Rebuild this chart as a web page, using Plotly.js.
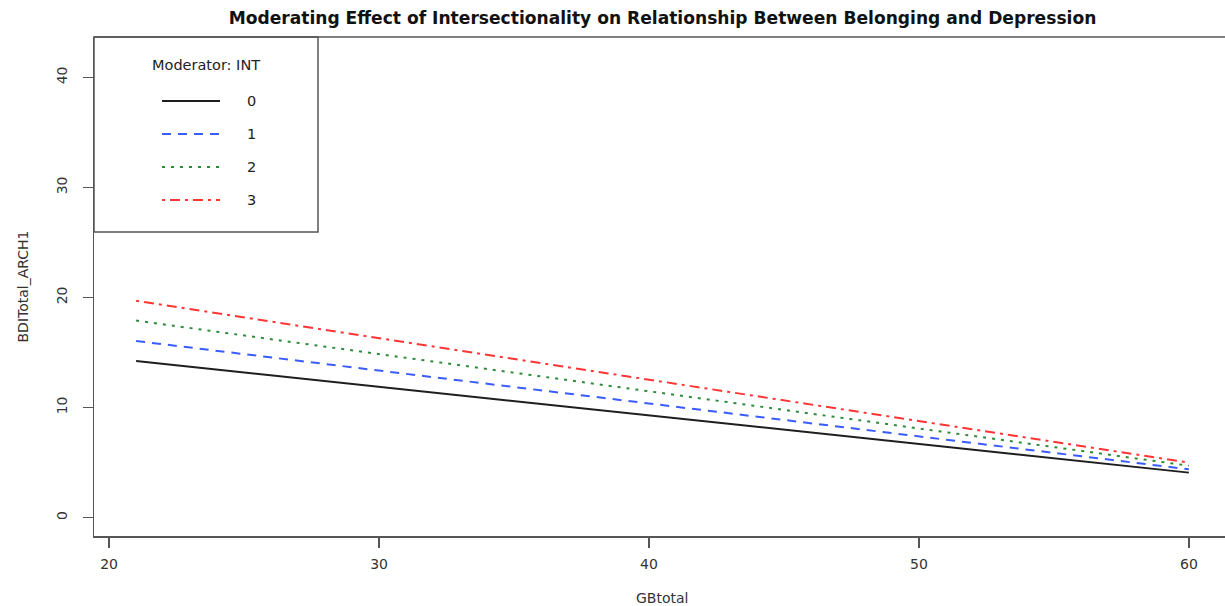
<!DOCTYPE html>
<html><head><meta charset="utf-8">
<script src="https://cdn.plot.ly/plotly-3.0.1.min.js"></script>
<style>html,body{margin:0;padding:0;overflow:hidden;background:#fff}</style>
</head><body><div id="chart"></div>
<script>
const gbTotal = [21, 60];
const int0 = [14.23, 4.08];
const int1 = [16.05, 4.38];
const int2 = [17.90, 4.71];
const int3 = [19.70, 4.99];
const seriesNames = ['0', '1', '2', '3'];
const xTicks = [20, 30, 40, 50, 60];
const yTicks = [0, 10, 20, 30, 40];

const FONT = 'DejaVu Sans, Liberation Sans, Arial, sans-serif';
const styles = [
  {color: '#1e1e1e', dash: 'solid'},
  {color: '#3a5cff', dash: '9px,7px'},
  {color: '#2e8b3a', dash: '3px,6px'},
  {color: '#ff3535', dash: '3px,5px,10px,5px'}
];
const ys = [int0, int1, int2, int3];
const traces = ys.map((y, i) => ({
  x: gbTotal, y: y, type: 'scatter', mode: 'lines', name: seriesNames[i],
  line: {color: styles[i].color, dash: styles[i].dash, width: 2},
  showlegend: false, hoverinfo: 'x+y'
}));

const W = 1240, H = 606;
const L = 94, R = 1231, T = 37, B = 536;
const shapes = [];
const annotations = [];
const pxX = x => (x - L) / (R - L);
const pxY = y => (B - y) / (B - T);
shapes.push({type: 'rect', xref: 'paper', yref: 'paper', x0: pxX(94), x1: pxX(318), y0: pxY(232), y1: pxY(37),
  line: {color: '#555', width: 1.5}, fillcolor: 'rgba(0,0,0,0)'});
annotations.push({xref: 'paper', yref: 'paper', x: pxX(206), y: pxY(65), text: 'Moderator: INT', showarrow: false,
  xanchor: 'center', yanchor: 'middle', font: {size: 14.5, color: '#222', family: FONT}});
const legY = [101, 134, 167, 200];
seriesNames.forEach((n, i) => {
  shapes.push({type: 'line', xref: 'paper', yref: 'paper', x0: pxX(162), x1: pxX(220), y0: pxY(legY[i]), y1: pxY(legY[i]),
    line: {color: styles[i].color, dash: styles[i].dash, width: 2}});
  annotations.push({xref: 'paper', yref: 'paper', x: pxX(251), y: pxY(legY[i]), text: n, showarrow: false,
    xanchor: 'center', yanchor: 'middle', font: {size: 14.5, color: '#222', family: FONT}});
});
annotations.push({xref: 'paper', yref: 'paper', x: pxX(662), y: pxY(598), text: 'GBtotal', showarrow: false,
  xanchor: 'center', yanchor: 'middle', font: {size: 14, color: '#333', family: FONT}});
annotations.push({xref: 'paper', yref: 'paper', x: pxX(22), y: pxY(286.5), text: 'BDITotal_ARCH1', showarrow: false,
  textangle: -90, xanchor: 'center', yanchor: 'middle', font: {size: 14, color: '#333', family: FONT}});
shapes.push({type: 'line', xref: 'paper', yref: 'paper', x0: 0, x1: 1, y0: 1, y1: 1, line: {color: '#555', width: 1.5}});

const layout = {
  width: W, height: H,
  margin: {l: L, r: W - R, t: T, b: H - B},
  paper_bgcolor: '#fff', plot_bgcolor: '#fff',
  font: {family: FONT, color: '#333', size: 14},
  title: {text: 'Moderating Effect of Intersectionality on Relationship Between Belonging and Depression',
    font: {size: 17.1, color: '#111', family: FONT, weight: 'bold'},
    x: 0.5, xref: 'paper', y: 1 - 18 / H, yref: 'container', xanchor: 'center', yanchor: 'middle'},
  xaxis: {range: [19.44, 61.56], tickvals: xTicks, ticktext: xTicks.map(String), ticks: 'outside', ticklen: 10,
    tickwidth: 1.5, tickcolor: '#555', showline: true, linecolor: '#555', linewidth: 1.5, showgrid: false,
    zeroline: false, tickfont: {size: 14, color: '#333', family: FONT}, ticklabelstandoff: 5},
  yaxis: {range: [-1.68, 43.68], tickvals: yTicks, ticktext: yTicks.map(String), ticks: 'outside', ticklen: 10,
    tickwidth: 1.5, tickcolor: '#555', showline: true, linecolor: '#555', linewidth: 1.5, showgrid: false,
    zeroline: false, tickangle: -90, tickfont: {size: 14, color: '#333', family: FONT}, ticklabelstandoff: 10},
  shapes: shapes, annotations: annotations
};
Plotly.newPlot('chart', traces, layout, {displayModeBar: false, staticPlot: true});
</script></body></html>
